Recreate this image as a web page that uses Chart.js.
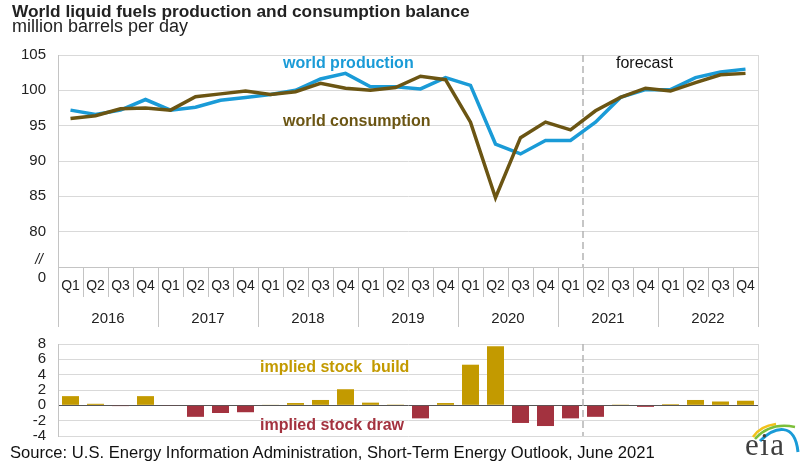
<!DOCTYPE html>
<html lang="en">
<head>
<meta charset="UTF-8">
<title>World liquid fuels production and consumption balance</title>
<script src="https://cdn.jsdelivr.net/npm/chart.js"></script>
<style>
    body { margin: 0; background: #fff; font-family: "Liberation Sans", Arial, sans-serif; }
    #wrap { position: relative; width: 801px; height: 476px; overflow: hidden; }
    canvas { position: absolute; left: 0; }
    .txt { position: absolute; white-space: pre; line-height: 1; }
</style>
</head>
<body>
<div id="wrap">
    <canvas id="balanceChart" width="801" height="335" style="top:0"></canvas>
    <!-- y축 눈금 여백(21px)만큼 위아래로 키운 캔버스 -->
    <canvas id="stockChart" width="801" height="134" style="top:323px"></canvas>

    <div class="txt" style="left:12px;top:3px;font-size:17.3px;font-weight:bold;color:#222">World liquid fuels production and consumption balance</div>
    <div class="txt" style="left:12px;top:17px;font-size:18px;color:#222">million barrels per day</div>
    <div class="txt" style="left:283px;top:55px;font-size:16px;font-weight:bold;color:#1a9bd7">world production</div>
    <div class="txt" style="left:283px;top:113px;font-size:16px;font-weight:bold;color:#6b5513">world consumption</div>
    <div class="txt" style="left:616px;top:55px;font-size:16px;color:#111">forecast</div>
    <div class="txt" style="left:260px;top:359px;font-size:16px;font-weight:bold;color:#c39a00">implied stock  build</div>
    <div class="txt" style="left:260px;top:417px;font-size:16px;font-weight:bold;color:#a3323f">implied stock draw</div>
    <div class="txt" style="left:10px;top:445px;font-size:16.6px;color:#111">Source: U.S. Energy Information Administration, Short-Term Energy Outlook, June 2021</div>

    <!-- eia logo -->
    <svg style="position:absolute;left:740px;top:418px" width="61" height="40">
        <path d="M13 19 Q20 8 36 6" stroke="#f2c21b" stroke-width="2.5" fill="none"/>
        <path d="M15 21 Q30 4 55 9" stroke="#7cbf3a" stroke-width="2.5" fill="none"/>
        <path d="M20 23 C35 8 55 4 58 34" stroke="#1a9bd7" stroke-width="3" fill="none"/>
    </svg>
    <div class="txt" style="left:745px;top:429px;font-size:31px;letter-spacing:1.5px;font-family:'Liberation Serif',serif;color:#3f3f3f">eia</div>
</div>

<script>
    // 분기별 데이터 (million barrels per day)
    const years = ['2016', '2017', '2018', '2019', '2020', '2021', '2022'];
    const quarters = [
        '2016 Q1', '2016 Q2', '2016 Q3', '2016 Q4',
        '2017 Q1', '2017 Q2', '2017 Q3', '2017 Q4',
        '2018 Q1', '2018 Q2', '2018 Q3', '2018 Q4',
        '2019 Q1', '2019 Q2', '2019 Q3', '2019 Q4',
        '2020 Q1', '2020 Q2', '2020 Q3', '2020 Q4',
        '2021 Q1', '2021 Q2', '2021 Q3', '2021 Q4',
        '2022 Q1', '2022 Q2', '2022 Q3', '2022 Q4'
    ];
    const production = [
        97.2, 96.6, 97.2, 98.7,
        97.2, 97.6, 98.6, 99.0,
        99.4, 100.0, 101.6, 102.4,
        100.5, 100.5, 100.2, 101.8,
        100.7, 92.4, 91.0, 92.9,
        92.9, 95.5, 99.0, 100.1,
        100.1, 101.8, 102.6, 103.0
    ];
    const consumption = [
        96.0, 96.4, 97.4, 97.5,
        97.2, 99.1, 99.5, 99.9,
        99.4, 99.8, 101.0, 100.3,
        100.0, 100.4, 102.0, 101.5,
        95.5, 84.8, 93.3, 95.5,
        94.4, 97.1, 99.0, 100.3,
        99.9, 101.1, 102.2, 102.4
    ];
    const stockChange = [
        1.2, 0.2, -0.1, 1.2,
        -0.05, -1.5, -1.0, -0.9,
        0.05, 0.3, 0.7, 2.1,
        0.35, 0.1, -1.7, 0.3,
        5.3, 7.7, -2.3, -2.7,
        -1.7, -1.5, 0.1, -0.2,
        0.15, 0.7, 0.5, 0.6
    ];
    const forecastStart = '2021 Q2';

    const GRID = '#d9d9d9';
    const AXIS = '#c4c4c4';
    const TEXT = '#222';
    const FONT = '"Liberation Sans", Arial, sans-serif';

    // 오른쪽 테두리 + 예측 구분 점선
    const framePlugin = {
        id: 'frame',
        beforeDatasetsDraw(chart) {
            const { ctx, chartArea: a, scales: { x } } = chart;
            ctx.save();
            ctx.strokeStyle = GRID;
            ctx.lineWidth = 1;
            ctx.beginPath();
            ctx.moveTo(a.right + 0.5, a.top);
            ctx.lineTo(a.right + 0.5, a.bottom);
            ctx.stroke();

            const i = quarters.indexOf(forecastStart);
            const fx = (x.getPixelForValue(i - 1) + x.getPixelForValue(i)) / 2;
            ctx.setLineDash([7, 4]);
            ctx.strokeStyle = '#b4b4b4';
            ctx.lineWidth = 1.5;
            ctx.beginPath();
            ctx.moveTo(fx, a.top);
            ctx.lineTo(fx, a.bottom);
            ctx.stroke();
            ctx.restore();
        }
    };

    // y축 끊김 표시 (// 와 0)
    const breakPlugin = {
        id: 'axisBreak',
        afterDraw(chart) {
            const { ctx, chartArea: a, scales: { y } } = chart;
            ctx.save();
            ctx.fillStyle = TEXT;
            ctx.textAlign = 'right';
            ctx.textBaseline = 'middle';
            ctx.font = 'italic 14px ' + FONT;
            ctx.fillText('//', y.right - 15, a.bottom - 7);
            ctx.font = '15px ' + FONT;
            ctx.fillText('0', y.right - 12, a.bottom + 11);
            ctx.restore();
        }
    };

    new Chart(document.getElementById('balanceChart'), {
        type: 'line',
        data: {
            labels: quarters,
            datasets: [
                {
                    label: 'world production',
                    data: production,
                    borderColor: '#1a9bd7',
                    borderWidth: 3.5,
                    pointRadius: 0,
                    tension: 0,
                    order: 2
                },
                {
                    label: 'world consumption',
                    data: consumption,
                    borderColor: '#6b5513',
                    borderWidth: 3.5,
                    pointRadius: 0,
                    tension: 0,
                    order: 1
                }
            ]
        },
        options: {
            responsive: false,
            animation: false,
            layout: { padding: { top: 55, right: 43, bottom: 8, left: 0 } },
            plugins: { legend: { display: false }, tooltip: { enabled: false } },
            scales: {
                x: {
                    offset: true,
                    grid: { drawOnChartArea: false, offset: true, tickLength: 30, color: AXIS },
                    border: { color: AXIS },
                    ticks: {
                        autoSkip: false, maxRotation: 0, padding: -19, color: TEXT,
                        font: { size: 14, family: FONT },
                        callback: (v, i) => quarters[i].split(' ')[1]
                    },
                    afterFit: s => { s.height = 30; }
                },
                x2: {
                    type: 'category',
                    labels: years,
                    position: 'bottom',
                    offset: true,
                    grid: { drawOnChartArea: false, offset: true, tickLength: 30, color: AXIS },
                    border: { display: false },
                    ticks: {
                        maxRotation: 0, padding: -17, color: TEXT,
                        font: { size: 15, family: FONT }
                    },
                    afterFit: s => { s.height = 30; }
                },
                y: {
                    min: 75,
                    max: 105,
                    grid: { color: GRID, drawTicks: false },
                    border: { color: AXIS },
                    ticks: {
                        stepSize: 5, padding: 12, color: TEXT,
                        font: { size: 15, family: FONT },
                        callback: v => v === 75 ? '' : v
                    },
                    afterFit: s => { s.width = 58; }
                }
            }
        },
        plugins: [framePlugin, breakPlugin]
    });

    new Chart(document.getElementById('stockChart'), {
        type: 'bar',
        data: {
            labels: quarters,
            datasets: [{
                label: 'implied stock change',
                data: stockChange,
                backgroundColor: c => c.raw >= 0 ? '#c39a00' : '#a3323f',
                barPercentage: 0.68,
                categoryPercentage: 1
            }]
        },
        options: {
            responsive: false,
            animation: false,
            layout: { padding: { top: 0, right: 43, bottom: 0, left: 0 } },
            plugins: { legend: { display: false }, tooltip: { enabled: false } },
            scales: {
                x: { display: false },
                y: {
                    min: -4,
                    max: 8,
                    grid: {
                        color: c => c.tick.value === 0 ? '#555' : GRID,
                        drawTicks: false
                    },
                    border: { color: AXIS },
                    ticks: {
                        stepSize: 2, autoSkip: false, padding: 12, color: TEXT,
                        font: { size: 15, family: FONT }
                    },
                    afterFit: s => { s.width = 58; }
                }
            }
        },
        plugins: [framePlugin]
    });
</script>
</body>
</html>
